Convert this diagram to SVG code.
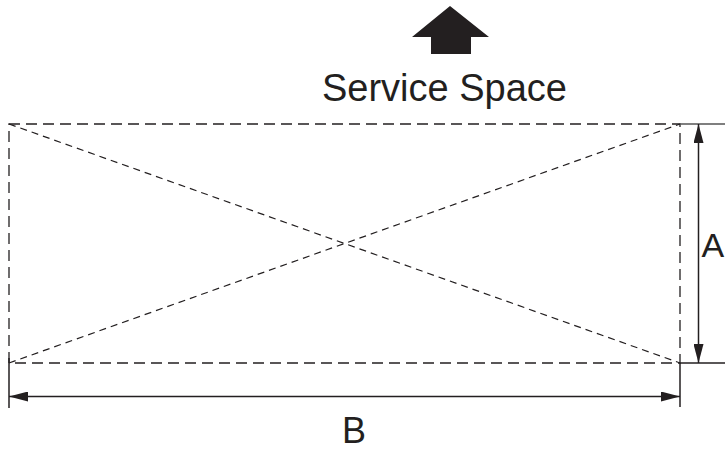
<svg xmlns="http://www.w3.org/2000/svg" width="725" height="450" viewBox="0 0 725 450">
<style>
.dash{fill:none;stroke:#231f20;stroke-width:1.3;stroke-dasharray:11 6}
.diag{fill:none;stroke:#231f20;stroke-width:1.2;stroke-dasharray:7 5}
.solid{fill:none;stroke:#231f20;stroke-width:1.5}
.ext{fill:none;stroke:#555;stroke-width:1.5}
.lbl{font-family:"Liberation Sans",Arial,sans-serif;fill:#231f20}
</style>
<defs>
<marker id="ah" markerWidth="20" markerHeight="10" refX="19" refY="5" orient="auto-start-reverse" markerUnits="userSpaceOnUse">
<path d="M0,0 L19,5 L0,10 Z" fill="#231f20"/>
</marker>
</defs>
<rect width="725" height="450" fill="#fff"/>
<g id="service-arrow">
<path d="M450,6 L489,37 L471,37 L471,54 L431,54 L431,37 L412,37 Z" fill="#231f20"/>
<text class="lbl" x="444.5" y="101" font-size="38" text-anchor="middle">Service Space</text>
</g>
<g id="space-rect">
<rect class="dash" x="9" y="124" width="671" height="239"/>
<line class="diag" x1="9" y1="124" x2="680" y2="363"/>
<line class="diag" x1="9" y1="363" x2="680" y2="124"/>
</g>
<g id="connectors">
<line class="ext" x1="680" y1="124" x2="725" y2="124"/>
<line class="solid" x1="680" y1="363" x2="725" y2="363"/>
<line class="solid" x1="9" y1="358" x2="9" y2="408"/>
<line class="solid" x1="680" y1="363" x2="680" y2="407"/>
<line class="solid" x1="698.5" y1="124" x2="698.5" y2="363" marker-start="url(#ah)" marker-end="url(#ah)"/>
<line class="solid" x1="9" y1="396.5" x2="680" y2="396.5" marker-start="url(#ah)" marker-end="url(#ah)"/>
</g>
<g id="dim-a">
<text class="lbl" x="701.5" y="257" font-size="34">A</text>
</g>
<g id="dim-b">
<text class="lbl" x="354" y="443" font-size="36" text-anchor="middle">B</text>
</g>
</svg>
